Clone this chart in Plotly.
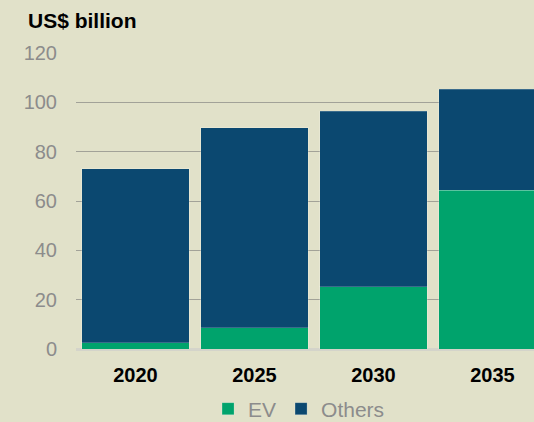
import plotly.graph_objects as go

years = ["2020", "2025", "2030", "2035"]
ev = [2.5, 8.6, 25.3, 64.3]
totals = [73.0, 89.7, 96.3, 105.4]
others = [t - e for t, e in zip(totals, ev)]
y_ticks = [0, 20, 40, 60, 80, 100, 120]

BG = "#E1E1C9"
FONT = "Liberation Sans, Arial, sans-serif"

fig = go.Figure()
fig.add_trace(go.Bar(x=years, y=ev, name="EV",
                     marker=dict(color="#00A36C", line=dict(color="rgba(255,255,255,0.2)", width=1))))
fig.add_trace(go.Bar(x=years, y=others, name="Others",
                     marker=dict(color="#0B4870", line=dict(color="rgba(255,255,255,0.2)", width=1))))

fig.update_layout(
    width=534, height=422,
    barmode="stack", bargap=0.097,
    paper_bgcolor=BG, plot_bgcolor=BG,
    margin=dict(l=76, r=0, t=53, b=73, pad=0, autoexpand=False),
    font=dict(family=FONT),
    title=dict(text="<b>US$ billion</b>", x=28/534, xref="container", xanchor="left",
               y=1 - 21/422, yref="container", yanchor="middle",
               font=dict(size=21, color="#000000", family=FONT)),
    xaxis=dict(range=[-0.5, 3.349], showgrid=False, showline=False, ticks="",
               tickfont=dict(size=20, color="#000000", family=FONT, weight="bold"),
               ticklabelstandoff=12, fixedrange=True, automargin=False),
    yaxis=dict(range=[0, 120], tickvals=y_ticks, showgrid=True, gridcolor="#A2A298", gridwidth=1.2,
               zeroline=True, zerolinecolor="#D4D4CA", zerolinewidth=2.5, showline=False,
               ticks="", tickfont=dict(size=20, color="#8C8C8C", family=FONT),
               ticklabelstandoff=18, fixedrange=True, automargin=False),
    legend=dict(orientation="h", traceorder="normal",
                x=0.56, xref="container", xanchor="center",
                y=(422 - 409) / 422, yref="container", yanchor="middle",
                font=dict(size=21, color="#8C8C8C", family=FONT), bgcolor="rgba(0,0,0,0)",
                itemclick=False),
    showlegend=True,
)

fig.write_html("out.html")
